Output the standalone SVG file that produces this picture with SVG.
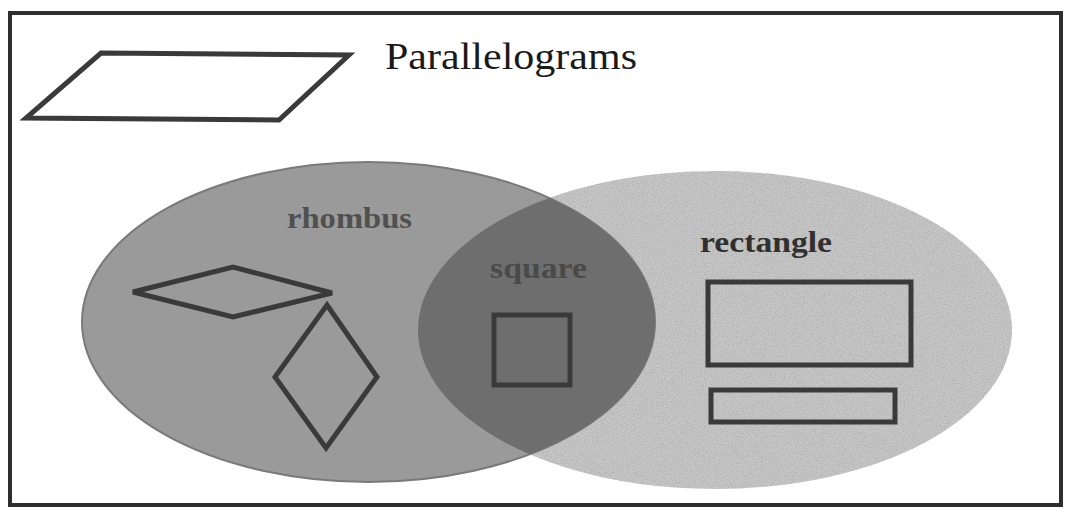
<svg xmlns="http://www.w3.org/2000/svg" width="1066" height="513" viewBox="0 0 1066 513">
<style>
.shape{fill:none;stroke:#3a3a3a;stroke-width:5;stroke-linejoin:miter}
.lbl{font-family:"Liberation Serif","Times New Roman",serif;font-weight:bold}
.title{font-family:"Liberation Serif","Times New Roman",serif;font-weight:normal}
</style>
<defs>
<clipPath id="clipL"><ellipse cx="368.5" cy="322" rx="286.5" ry="160"/></clipPath>
<filter id="speckle" x="0" y="0" width="100%" height="100%">
<feTurbulence type="fractalNoise" baseFrequency="0.9" numOctaves="2" seed="3" result="n"/>
<feColorMatrix in="n" type="matrix" values="0 0 0 0 0.45  0 0 0 0 0.45  0 0 0 0 0.45  0 0 0 -3 1.75" result="dots"/>
<feComposite in="dots" in2="SourceGraphic" operator="in" result="d2"/>
<feMerge><feMergeNode in="SourceGraphic"/><feMergeNode in="d2"/></feMerge>
</filter>
</defs>
<rect width="1066" height="513" fill="#ffffff"/>
<g id="frame">
<rect x="10" y="13" width="1051" height="492" fill="none" stroke="#2e2e2e" stroke-width="4"/>
</g>
<g id="parallelogram-node">
<polygon class="shape" points="101,53 349,55 279,120 26,118"/>
<text class="title" x="385" y="69" font-size="37" fill="#1a1a1a" textLength="252" lengthAdjust="spacingAndGlyphs">Parallelograms</text>
</g>
<g id="rectangle-set">
<ellipse cx="715" cy="330" rx="297" ry="159" fill="#c6c6c6" filter="url(#speckle)"/>
</g>
<g id="rhombus-set">
<ellipse cx="368.5" cy="322" rx="286.5" ry="160" fill="#9a9a9a" stroke="#7a7a7a" stroke-width="2"/>
</g>
<g id="square-set">
<ellipse cx="715" cy="330" rx="297" ry="159" fill="#6e6e6e" clip-path="url(#clipL)"/>
</g>
<g id="rhombus-node">
<text class="lbl" x="287" y="228" font-size="29" fill="#505050" textLength="125" lengthAdjust="spacingAndGlyphs">rhombus</text>
<polygon class="shape" points="133,292 233,267 332,293 233,317"/>
<polygon class="shape" points="327,305 377,377 326,448 275,377"/>
</g>
<g id="square-node">
<text class="lbl" x="490" y="278" font-size="29" fill="#4a4a4a" textLength="97" lengthAdjust="spacingAndGlyphs">square</text>
<rect class="shape" x="494" y="315" width="76" height="70" stroke-width="6"/>
</g>
<g id="rectangle-node">
<text class="lbl" x="700" y="252" font-size="29" fill="#303030" textLength="132" lengthAdjust="spacingAndGlyphs">rectangle</text>
<rect class="shape" x="708" y="282" width="203" height="83"/>
<rect class="shape" x="711" y="390" width="184" height="32"/>
</g>
<g id="connectors"/>
</svg>
